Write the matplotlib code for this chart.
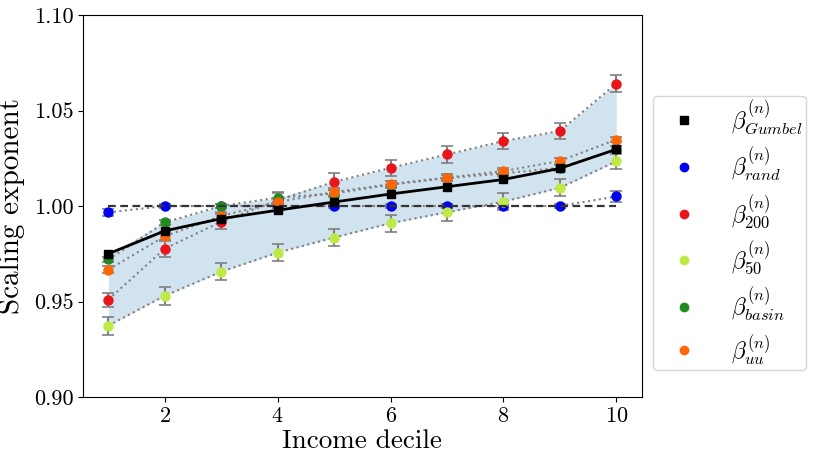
import matplotlib
matplotlib.use("Agg")
import matplotlib.pyplot as plt
from matplotlib.lines import Line2D
import numpy as np

plt.rcParams['font.family'] = 'serif'
plt.rcParams['font.serif'] = ['cmr10']
plt.rcParams['mathtext.fontset'] = 'cm'
plt.rcParams['axes.formatter.use_mathtext'] = True

deciles = [1, 2, 3, 4, 5, 6, 7, 8, 9, 10]
gumbel = [0.975, 0.987, 0.9934, 0.9978, 1.0021, 1.0063, 1.0101, 1.0139, 1.0197, 1.0297]
rand = [0.9967, 1.000, 1.000, 1.000, 1.000, 1.000, 1.000, 1.000, 1.000, 1.0050]
b200 = [0.951, 0.9777, 0.9918, 1.003, 1.0127, 1.0200, 1.0270, 1.034, 1.0393, 1.0641]
b50 = [0.9374, 0.953, 0.9656, 0.9756, 0.9835, 0.991, 0.9967, 1.0023, 1.0095, 1.0234]
basin = [0.972, 0.9914, 1.000, 1.0044, 1.0065, 1.0112, 1.0146, 1.0171, 1.0200, 1.0297]
uu = [0.9667, 0.9842, 0.9948, 1.0021, 1.0073, 1.0115, 1.0149, 1.0183, 1.0236, 1.0348]

rand_err = [0.0017, 0.0008, 0.0008, 0.0008, 0.0008, 0.0008, 0.0008, 0.0008, 0.0008, 0.0029]
b200_err = [0.0037, 0.0042, 0.0040, 0.0040, 0.0044, 0.0043, 0.0043, 0.0043, 0.0044, 0.0044]
b50_err = [0.0047, 0.0046, 0.0045, 0.0045, 0.0045, 0.0044, 0.0044, 0.0044, 0.0044, 0.0040]
basin_err = [0.0015, 0.0015, 0.0012, 0.0028, 0.0020, 0.0018, 0.0015, 0.0015, 0.0015, 0.0015]
uu_err = [0.0020, 0.0020, 0.0020, 0.0020, 0.0020, 0.0018, 0.0018, 0.0015, 0.0018, 0.0015]

labels = [r'$\beta^{(n)}_{Gumbel}$', r'$\beta^{(n)}_{rand}$', r'$\beta^{(n)}_{200}$',
          r'$\beta^{(n)}_{50}$', r'$\beta^{(n)}_{basin}$', r'$\beta^{(n)}_{uu}$']
colors = ['black', '#0000ee', '#e8151b', '#bdea45', '#218b21', '#ff6608']

fig = plt.figure(figsize=(8.16, 4.61), dpi=100)
ax = fig.add_axes([0.1017, 0.1388, 0.6847, 0.8286])

x = np.array(deciles)
stack = np.array([gumbel, b200, b50, basin, uu])
ax.fill_between(x, stack.min(axis=0), stack.max(axis=0), color='C0', alpha=0.2, lw=0, zorder=1)

series = [(rand, rand_err), (b200, b200_err), (b50, b50_err), (basin, basin_err), (uu, uu_err)]
for (vals, errs), col in zip(series, colors[1:]):
    ax.plot(x, vals, ls=':', color='grey', lw=1.5, zorder=2)
    ax.errorbar(x, vals, yerr=errs, fmt='o', color=col, ms=6.5, ecolor='grey',
                elinewidth=1.5, capsize=4, capthick=1.2, zorder=3)

ax.plot([x[0], x[-1]], [1.0, 1.0], ls='--', color='#333333', lw=1.6, zorder=4, dashes=(3.5, 2))
ax.plot(x, gumbel, '-s', color='black', lw=2, ms=5.5, zorder=5)

ax.set_ylim(0.90, 1.10)
ax.set_xlim(0.55, 10.45)
ax.set_yticks([0.90, 0.95, 1.00, 1.05, 1.10])
ax.set_yticklabels(['0.90', '0.95', '1.00', '1.05', '1.10'])
ax.set_xticks([2, 4, 6, 8, 10])
ax.tick_params(labelsize=16)
ax.set_xlabel('Income decile', fontsize=19.5, labelpad=2)
ax.set_ylabel('Scaling exponent', fontsize=21, labelpad=6)

handles = [Line2D([], [], ls='none', marker='s', color='black', ms=6)]
for col in colors[1:]:
    handles.append(Line2D([], [], ls='none', marker='o', color=col, ms=6))
fig.legend(handles, labels, loc='center left', bbox_to_anchor=(653/816, 1 - 233/461),
           fontsize=17, labelspacing=0.38, handletextpad=0.85, borderpad=0.15,
           borderaxespad=0, handlelength=2.3, frameon=True)

fig.savefig('out.png', dpi=100)
